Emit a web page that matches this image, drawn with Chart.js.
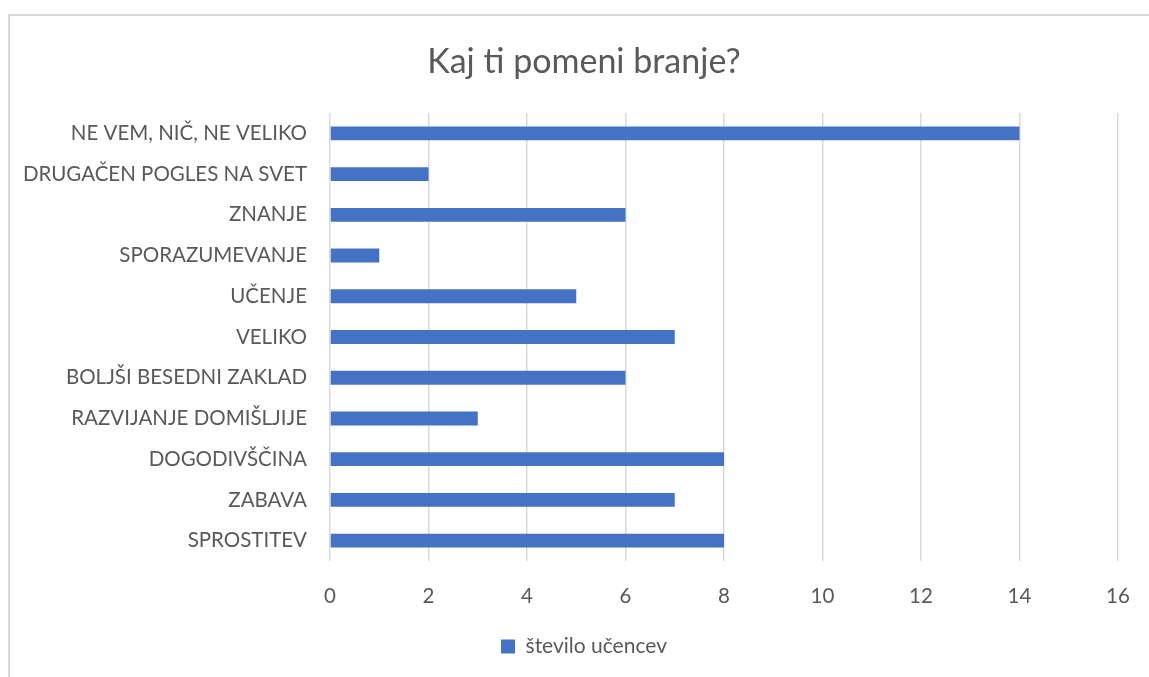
<!DOCTYPE html>
<html>
<head>
<meta charset="utf-8">
<script src="https://cdn.jsdelivr.net/npm/chart.js@4"></script>
<style>
  body { margin: 0; background: #fff; overflow: hidden; }
  #frame { position: absolute; left: 8px; top: 14px; width: 1160px; height: 700px;
           border-top: 2px solid #d9d9d9; border-left: 2px solid #d9d9d9; }
  #wrap { position: absolute; left: 8px; top: 0; width: 1152px; height: 677px; }
</style>
</head>
<body>
<div id="frame"></div>
<div id="wrap"><canvas id="chart"></canvas></div>
<script>
// podatki
var categories = [
  "NE VEM, NIČ, NE VELIKO",
  "DRUGAČEN POGLES NA SVET",
  "ZNANJE",
  "SPORAZUMEVANJE",
  "UČENJE",
  "VELIKO",
  "BOLJŠI BESEDNI ZAKLAD",
  "RAZVIJANJE DOMIŠLJIJE",
  "DOGODIVŠČINA",
  "ZABAVA",
  "SPROSTITEV"
];
var ucenci = [14, 2, 6, 1, 5, 7, 6, 3, 8, 7, 8];
var seriesName = "število učencev";
var chartTitle = "Kaj ti pomeni branje?";

var textColor = "#595959";
var fontFamily = "Lato, 'Liberation Sans', sans-serif";

var ctx = document.getElementById("chart").getContext('2d');
var chart = new Chart(ctx, {
  type: 'bar',
  data: {
    labels: categories,
    datasets: [{
      label: seriesName,
      data: ucenci,
      backgroundColor: "#4472C4",
      borderWidth: 0,
      categoryPercentage: 1,
      barPercentage: 0.34
    }]
  },
  options: {
    indexAxis: 'y',
    responsive: true,
    maintainAspectRatio: false,
    animation: false,
    layout: { padding: { left: 0, right: 0, top: 0, bottom: 10 } },
    plugins: {
      title: {
        display: true,
        text: chartTitle,
        color: textColor,
        font: { family: fontFamily, size: 34, weight: 'normal' },
        padding: { top: 41.6, bottom: 30.6 }
      },
      legend: {
        position: 'bottom',
        labels: {
          color: textColor,
          font: { family: fontFamily, size: 21 },
          boxWidth: 14,
          boxHeight: 14,
          padding: 10
        }
      },
      tooltip: { enabled: false }
    },
    scales: {
      x: {
        min: 0,
        max: 16,
        ticks: { stepSize: 2, color: textColor, font: { family: fontFamily, size: 20.5 }, padding: 23 },
        grid: { color: "#d9d9d9", lineWidth: 1.5, drawTicks: false },
        border: { display: false },
        afterFit: function (scale) { scale.height = 65; }
      },
      y: {
        ticks: { color: textColor, font: { family: fontFamily, size: 20.5 }, padding: 23 },
        grid: { display: false, drawTicks: false },
        border: { display: false },
        afterFit: function (scale) { scale.width = 322; }
      },
      // prazen prostor desno od risalne ploskve
      yRight: {
        type: 'category',
        position: 'right',
        ticks: { display: false },
        grid: { display: false, drawTicks: false },
        border: { display: false },
        afterFit: function (scale) { scale.width = 42; }
      }
    }
  }
});
</script>
</body>
</html>
